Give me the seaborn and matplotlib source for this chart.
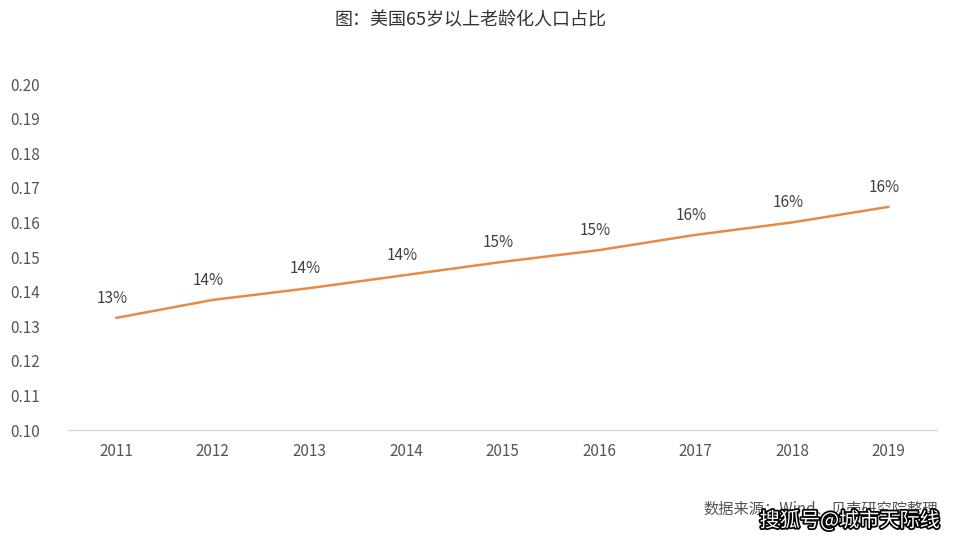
import matplotlib
matplotlib.use("Agg")
import matplotlib.pyplot as plt
import seaborn as sns
import pandas as pd
import matplotlib.patheffects as pe

years = ["2011", "2012", "2013", "2014", "2015", "2016", "2017", "2018", "2019"]
share = [0.1324, 0.1376, 0.1410, 0.1448, 0.1486, 0.1520, 0.1564, 0.1600, 0.1645]
yticks = [0.10, 0.11, 0.12, 0.13, 0.14, 0.15, 0.16, 0.17, 0.18, 0.19, 0.20]
title = "图：美国65岁以上老龄化人口占比"
source = "数据来源：Wind、贝壳研究院整理"
watermark = "搜狐号@城市天际线"

sns.set_theme(style="white")
plt.rcParams['font.family'] = ['Noto Sans CJK SC', 'DejaVu Sans']

df = pd.DataFrame({"year": years, "share": share})

fig = plt.figure(figsize=(9.6, 5.4), dpi=100)
ax = fig.add_axes([0.0708, 0.2037, 0.9052, 0.6407])
sns.lineplot(data=df, x="year", y="share", ax=ax, color="#E38B47", linewidth=1.8, sort=False)

for i, v in enumerate(share):
    ax.annotate(f"{v*100:.0f}%", (i, v), xytext=(-3, 8), textcoords="offset points",
                ha="center", va="bottom", fontsize=11, color="#404040")

ax.set_xlim(-0.5, 8.5)
ax.set_ylim(0.10, 0.20)
ax.set_yticks(yticks)
ax.set_yticklabels([f"{t:.2f}" for t in yticks])
ax.set_xlabel("")
ax.set_ylabel("")
for s in ["top", "right", "left"]:
    ax.spines[s].set_visible(False)
ax.spines["bottom"].set_color("#d9d9d9")
ax.spines["bottom"].set_linewidth(1)
ax.tick_params(axis="both", length=0, labelsize=11, labelcolor="#555555")
ax.tick_params(axis="y", pad=20)
ax.tick_params(axis="x", pad=9)

fig.text(0.49, 0.962, title, ha="center", va="center", fontsize=13, color="#333333")
fig.text(0.855, 0.057, source, ha="center", va="center", fontsize=11, color="#555555")
fig.text(0.885, 0.035, watermark, ha="center", va="center", fontsize=14.5, color="white",
         path_effects=[pe.withStroke(linewidth=2.5, foreground="black")])

fig.savefig("out.png", dpi=100)
